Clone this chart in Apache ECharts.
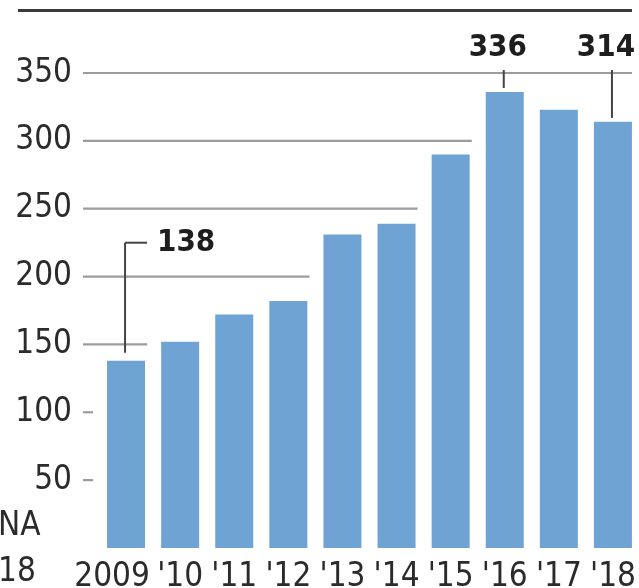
<!DOCTYPE html>
<html>
<head>
<meta charset="utf-8">
<script src="https://cdn.jsdelivr.net/npm/echarts@6/dist/echarts.min.js"></script>
<style>
  html, body { margin: 0; padding: 0; background: #fff; }
  #chart { width: 639px; height: 588px; }
</style>
</head>
<body>
<div id="chart"></div>
<script>
// Yearly values, 2009 to 2018
const years = ['2009', "'10", "'11", "'12", "'13", "'14", "'15", "'16", "'17", "'18"];
const values = [138, 152, 172, 182, 231, 239, 290, 336, 323, 314];
const yTicks = [50, 100, 150, 200, 250, 300, 350];
// Years whose value is written out above the bar
const labelledYears = [0, 7, 9];

const FONT = '"DejaVu Sans Condensed", "DejaVu Sans", sans-serif';
const LABEL_SIZE = 33;
const BAR_W = 38;
const INK = '#2b2b2b';

const chart = echarts.init(document.getElementById('chart'), null, { renderer: 'canvas' });

// Grid lines stop just before the first bar that rises above them
function renderGridLine(params, api) {
  const v = api.value(1);
  const y = api.coord([0, v])[1];
  const band = api.size([1, 0])[0];
  const x0 = api.coord([0, 0])[0] - band / 2 - 16;
  const idx = values.findIndex(b => b > v);
  let x1;
  if (idx < 0) {
    x1 = api.coord([values.length - 1, 0])[0] + BAR_W / 2;
  } else {
    x1 = api.coord([idx, 0])[0] - BAR_W / 2 - 14;
  }
  return {
    type: 'line',
    shape: { x1: x0, y1: y, x2: x1, y2: y },
    style: { stroke: '#9c9c9c', lineWidth: 2.2 }
  };
}

// Value callouts with leader lines
function renderCallout(params, api) {
  const i = api.value(0);
  const v = api.value(1);
  const pt = api.coord([i, v]);
  const x = pt[0] - 1;
  const top = pt[1];
  const gridTop = params.coordSys.y;
  const lineStyle = { stroke: '#444', lineWidth: 2 };
  const textStyle = (tx, ty, align) => ({
    type: 'text',
    x: tx, y: ty,
    style: {
      text: String(v), fill: '#1e1e1e',
      fontSize: 31, fontWeight: 'bold', fontFamily: FONT,
      align: align, verticalAlign: 'middle'
    }
  });
  if (params.dataIndex === 0) {
    const ey = top - 118;
    return {
      type: 'group',
      children: [
        { type: 'line', shape: { x1: x, y1: top - 8, x2: x, y2: ey }, style: lineStyle },
        { type: 'line', shape: { x1: x, y1: ey, x2: x + 22, y2: ey }, style: lineStyle },
        textStyle(x + 32, ey, 'left')
      ]
    };
  }
  return {
    type: 'group',
    children: [
      { type: 'line', shape: { x1: x, y1: gridTop - 3, x2: x, y2: top - 4 }, style: lineStyle },
      textStyle(pt[0] - 7, gridTop - 25, 'center')
    ]
  };
}

chart.setOption({
  animation: false,
  backgroundColor: '#ffffff',
  grid: { left: 99, width: 541, top: 73, bottom: 40, containLabel: false, outerBoundsMode: 'none' },
  xAxis: {
    type: 'category',
    data: years,
    axisLine: { show: false },
    axisTick: { show: false },
    axisLabel: {
      interval: 0,
      margin: 13,
      color: INK,
      fontSize: LABEL_SIZE,
      fontFamily: FONT,
      formatter: (val, idx) => idx === 0 ? '{first|' + val + '}' : val,
      rich: {
        first: { fontSize: LABEL_SIZE, fontFamily: FONT, color: INK, padding: [0, 28, 0, 0] }
      }
    }
  },
  yAxis: {
    type: 'value',
    min: 0,
    max: 350,
    interval: 50,
    axisLine: { show: false },
    axisTick: { show: false },
    splitLine: { show: false },
    axisLabel: {
      showMinLabel: false,
      margin: 27,
      color: INK,
      fontSize: LABEL_SIZE,
      fontFamily: FONT
    }
  },
  graphic: [
    { type: 'rect', left: 18, top: 9, shape: { width: 614, height: 3 }, style: { fill: '#3a3a3a' } },
    { type: 'text', left: -2, top: 510, style: { text: 'NA', fill: INK, fontSize: LABEL_SIZE, fontFamily: FONT } },
    { type: 'text', left: -2, top: 556, style: { text: '18', fill: INK, fontSize: LABEL_SIZE, fontFamily: FONT } }
  ],
  series: [
    {
      type: 'custom',
      renderItem: renderGridLine,
      data: yTicks.map(v => [0, v]),
      encode: { x: 0, y: 1 },
      z: 1,
      silent: true
    },
    {
      type: 'bar',
      data: values,
      barWidth: BAR_W,
      itemStyle: { color: '#6fa3d3' },
      z: 2
    },
    {
      type: 'custom',
      renderItem: renderCallout,
      data: labelledYears.map(i => [i, values[i]]),
      encode: { x: 0, y: 1 },
      z: 3,
      silent: true
    }
  ]
});
</script>
</body>
</html>
